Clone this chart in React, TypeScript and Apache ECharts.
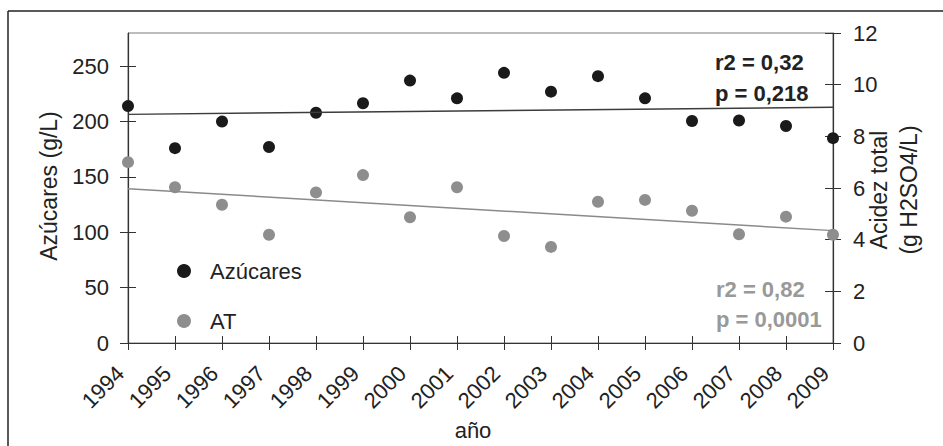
import React, { useEffect, useRef } from "react";
import * as echarts from "echarts";

// Harvest years on the shared horizontal axis
const years: number[] = [1994, 1995, 1996, 1997, 1998, 1999, 2000, 2001, 2002, 2003, 2004, 2005, 2006, 2007, 2008, 2009];

// Sugar content at harvest (g/L), left axis
const sugar: number[] = [214, 176, 200, 177, 208, 216.5, 237, 221, 244, 227, 241, 221, 200.5, 201, 196, 185];

// Total acidity (g H2SO4/L), right axis
const acidity: number[] = [7.0, 6.03, 5.35, 4.19, 5.83, 6.5, 4.87, 6.03, 4.14, 3.72, 5.47, 5.54, 5.12, 4.21, 4.89, 4.19];

// Fitted linear trends, value at the first and last year
const trendYears: number[] = [1994, 2009];
const sugarTrend: number[] = [206.5, 212.9];
const acidityTrend: number[] = [5.97, 4.35];

// Tick values
const leftTicks: number[] = [0, 50, 100, 150, 200, 250];
const rightTicks: number[] = [0, 2, 4, 6, 8, 10, 12];

// Regression statistics
const sugarStats: string[] = ["r2 = 0,32", "p = 0,218"];
const acidityStats: string[] = ["r2 = 0,82", "p = 0,0001"];

const FONT = "'Liberation Sans', Arial, Helvetica, sans-serif";
const DARK = "#1a1a1a";
const GREY = "#8e8e8e";
const AXIS = "#333333";

export default function App() {
  const ref = useRef<HTMLDivElement>(null);

  useEffect(() => {
    if (!ref.current) return;
    const chart = echarts.init(ref.current, null, { renderer: "svg" });

    const labelStyle = { fontFamily: FONT, fontSize: 22, color: "#222" };
    const baseX = {
      type: "value" as const,
      min: years[0],
      max: years[years.length - 1],
      interval: 1,
      position: "bottom" as const,
      splitLine: { show: false },
    };

    chart.setOption({
      animation: false,
      backgroundColor: "#ffffff",
      grid: {
        left: 128,
        top: 33,
        right: 110,
        bottom: 103,
        show: true,
        borderColor: "#7a7a7a",
        borderWidth: 1,
      },
      legend: {
        orient: "vertical",
        left: 172,
        top: 255,
        itemWidth: 14,
        itemHeight: 14,
        itemGap: 28,
        icon: "circle",
        data: ["Azúcares", "AT"],
        itemStyle: { opacity: 1 },
        textStyle: { ...labelStyle, padding: [0, 0, 0, 14] },
      },
      xAxis: [
        {
          ...baseX,
          axisLine: { show: true, lineStyle: { color: AXIS, width: 1.2 } },
          axisTick: { show: true, length: 7, lineStyle: { color: AXIS } },
          axisLabel: {
            ...labelStyle,
            rotate: 45,
            margin: 19,
            padding: [0, 11, 0, 0],
            formatter: (v: number) => String(v),
          },
        },
        {
          ...baseX,
          axisLine: { show: false },
          axisTick: { show: true, inside: true, length: 7, lineStyle: { color: AXIS } },
          axisLabel: { show: false },
        },
      ],
      yAxis: [
        {
          type: "value",
          position: "left",
          min: 0,
          max: 280,
          splitLine: { show: false },
          axisLine: { show: true, lineStyle: { color: AXIS, width: 1.2 } },
          axisTick: { show: true, length: 8, customValues: leftTicks, lineStyle: { color: AXIS } },
          axisLabel: { ...labelStyle, margin: 19, customValues: leftTicks },
        },
        {
          type: "value",
          position: "right",
          min: 0,
          max: 12,
          interval: 2,
          splitLine: { show: false },
          axisLine: { show: true, lineStyle: { color: AXIS, width: 1.2 } },
          axisTick: { show: true, length: 8, customValues: rightTicks, lineStyle: { color: AXIS } },
          axisLabel: { ...labelStyle, margin: 20, customValues: rightTicks },
        },
        {
          type: "value",
          position: "left",
          min: 0,
          max: 280,
          splitLine: { show: false },
          axisLine: { show: false },
          axisTick: { show: true, inside: true, length: 8, customValues: leftTicks, lineStyle: { color: AXIS } },
          axisLabel: { show: false },
        },
        {
          type: "value",
          position: "right",
          min: 0,
          max: 12,
          interval: 2,
          splitLine: { show: false },
          axisLine: { show: false },
          axisTick: { show: true, inside: true, length: 8, customValues: rightTicks, lineStyle: { color: AXIS } },
          axisLabel: { show: false },
        },
      ],
      series: [
        {
          name: "Azúcares tendencia",
          type: "line",
          xAxisIndex: 0,
          yAxisIndex: 0,
          symbol: "none",
          lineStyle: { color: "#3c3c3c", width: 1.5 },
          data: trendYears.map((y, i) => [y, sugarTrend[i]]),
        },
        {
          name: "AT tendencia",
          type: "line",
          xAxisIndex: 0,
          yAxisIndex: 1,
          symbol: "none",
          lineStyle: { color: "#8a8a8a", width: 1.5 },
          data: trendYears.map((y, i) => [y, acidityTrend[i]]),
        },
        {
          name: "Azúcares",
          type: "scatter",
          xAxisIndex: 0,
          yAxisIndex: 0,
          symbolSize: 12,
          itemStyle: { color: DARK, opacity: 1 },
          data: years.map((y, i) => [y, sugar[i]]),
        },
        {
          name: "AT",
          type: "scatter",
          xAxisIndex: 0,
          yAxisIndex: 1,
          symbolSize: 12,
          itemStyle: { color: GREY, opacity: 1 },
          data: years.map((y, i) => [y, acidity[i]]),
        },
      ],
      graphic: [
        {
          type: "line",
          shape: { x1: 8, y1: 11, x2: 943, y2: 11 },
          style: { stroke: "#222", lineWidth: 1.5 },
          silent: true,
        },
        {
          type: "line",
          shape: { x1: 8, y1: 11, x2: 8, y2: 446 },
          style: { stroke: "#222", lineWidth: 1.5 },
          silent: true,
        },
        {
          type: "text",
          x: 49,
          y: 186,
          rotation: Math.PI / 2,
          style: {
            text: "Azúcares (g/L)",
            font: `23px ${FONT}`,
            fill: "#222",
            textAlign: "center",
            textVerticalAlign: "middle",
          },
        },
        {
          type: "text",
          x: 879,
          y: 190,
          rotation: Math.PI / 2,
          style: {
            text: "Acidez total",
            font: `23px ${FONT}`,
            fill: "#222",
            textAlign: "center",
            textVerticalAlign: "middle",
          },
        },
        {
          type: "text",
          x: 909,
          y: 190,
          rotation: Math.PI / 2,
          style: {
            text: "(g H2SO4/L)",
            font: `23px ${FONT}`,
            fill: "#222",
            textAlign: "center",
            textVerticalAlign: "middle",
          },
        },
        {
          type: "text",
          x: 473,
          y: 430,
          style: {
            text: "año",
            font: `22px ${FONT}`,
            fill: "#222",
            textAlign: "center",
            textVerticalAlign: "middle",
          },
        },
        {
          type: "text",
          x: 715,
          y: 62,
          style: { text: sugarStats[0], font: `bold 22px ${FONT}`, fill: "#222", textAlign: "left", textVerticalAlign: "middle" },
        },
        {
          type: "text",
          x: 715,
          y: 93,
          style: { text: sugarStats[1], font: `bold 22px ${FONT}`, fill: "#222", textAlign: "left", textVerticalAlign: "middle" },
        },
        {
          type: "text",
          x: 716,
          y: 289,
          style: { text: acidityStats[0], font: `bold 22px ${FONT}`, fill: "#999", textAlign: "left", textVerticalAlign: "middle" },
        },
        {
          type: "text",
          x: 716,
          y: 319,
          style: { text: acidityStats[1], font: `bold 22px ${FONT}`, fill: "#999", textAlign: "left", textVerticalAlign: "middle" },
        },
      ],
    });

    return () => chart.dispose();
  }, []);

  return (
    <div
      ref={ref}
      style={{ position: "fixed", left: 0, top: 0, width: 943, height: 446, background: "#fff" }}
    />
  );
}
